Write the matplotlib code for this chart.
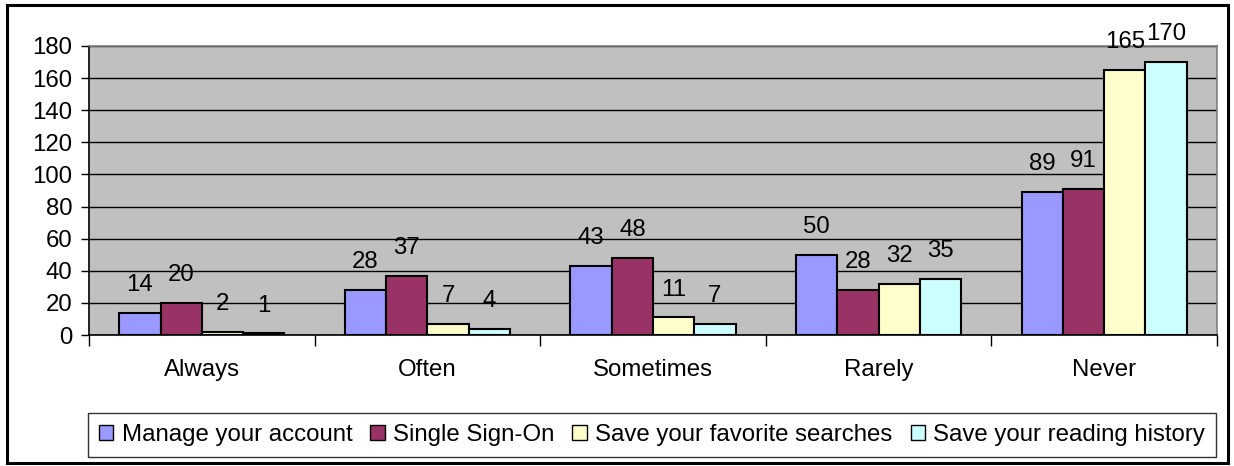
import matplotlib
matplotlib.use("Agg")
import matplotlib.pyplot as plt
import numpy as np
from matplotlib.patches import Rectangle

categories = ["Always", "Often", "Sometimes", "Rarely", "Never"]
series_names = ["Manage your account", "Single Sign-On",
                "Save your favorite searches", "Save your reading history"]
manage = [14, 28, 43, 50, 89]
sso = [20, 37, 48, 28, 91]
searches = [2, 7, 11, 32, 165]
history = [1, 4, 7, 35, 170]
colors = ["#9999FF", "#993366", "#FFFFCC", "#CCFFFF"]
yticks = [0, 20, 40, 60, 80, 100, 120, 140, 160, 180]

plt.rcParams['font.family'] = ['Liberation Sans', 'DejaVu Sans']
FS = 17.3
W, H = 1234, 466
fig = plt.figure(figsize=(W / 100, H / 100), dpi=100)

# outer border
fig.patches.append(Rectangle((7 / W, 1 - 463 / H), (1228 - 7) / W, (463 - 5) / H,
                             transform=fig.transFigure, fill=False,
                             edgecolor="black", linewidth=2.2, zorder=0))

x0, x1, ytop, ybot = 89, 1217, 46, 335
ax = fig.add_axes([x0 / W, 1 - ybot / H, (x1 - x0) / W, (ybot - ytop) / H])
ax.set_facecolor("#C0C0C0")

data = [manage, sso, searches, history]
n = len(categories)
xs = np.arange(n)
bw = 0.183
for i, (vals, c, name) in enumerate(zip(data, colors, series_names)):
    pos = xs + (i - 1.5) * bw
    ax.bar(pos, vals, width=bw, color=c, edgecolor="black",
           linewidth=1.5, label=name, zorder=3)
    for p, v in zip(pos, vals):
        ax.annotate(str(v), (p, v), xytext=(0, 12), textcoords="offset points",
                    ha="center", va="bottom", fontsize=FS, zorder=4)

ax.set_xlim(-0.5, n - 0.5)
ax.set_ylim(0, 180)
ax.set_yticks(yticks)
ax.set_yticklabels([str(t) for t in yticks], fontsize=FS)
ax.yaxis.grid(True, color="black", linewidth=1.0, zorder=1)
ax.set_axisbelow(True)

ax.set_xticks(np.arange(n + 1) - 0.5)
ax.set_xticklabels([])
ax.set_xticks(xs, minor=True)
ax.set_xticklabels(categories, minor=True, fontsize=FS)
ax.tick_params(axis="x", which="minor", length=0, pad=17)
ax.tick_params(axis="x", which="major", length=8, width=1, direction="out", color="black")
ax.tick_params(axis="y", length=6, width=1, direction="out", pad=6)

for s in ["top", "right"]:
    ax.spines[s].set_color("#808080")
    ax.spines[s].set_linewidth(1.2)
for s in ["left", "bottom"]:
    ax.spines[s].set_color("black")
    ax.spines[s].set_linewidth(1.2)

leg = fig.legend(loc="center", bbox_to_anchor=((92 + 1212) / 2 / W, 1 - 435 / H),
                 ncol=4, fontsize=FS, frameon=True, fancybox=False,
                 edgecolor="black", handlelength=0.6, handleheight=0.6,
                 handletextpad=0.35, columnspacing=0.75, borderpad=0.45,
                 borderaxespad=0)
leg.get_frame().set_linewidth(1.0)
for h in leg.legend_handles:
    h.set_linewidth(1.0)

fig.savefig("out.png", dpi=100)
